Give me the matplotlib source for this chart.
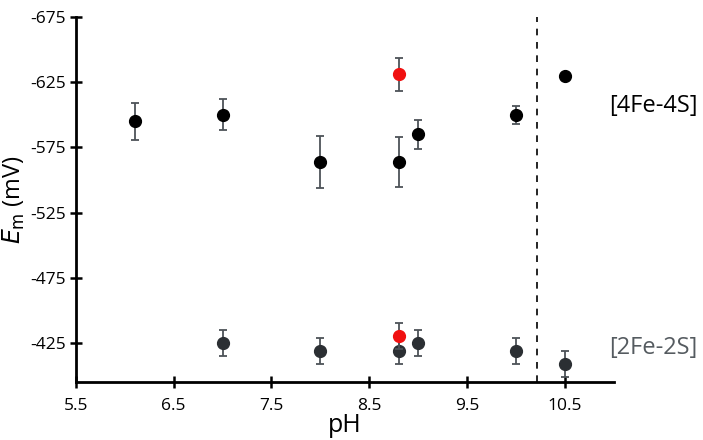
import matplotlib
matplotlib.use("Agg")
import matplotlib.pyplot as plt

plt.rcParams['font.family'] = ['Open Sans', 'DejaVu Sans']

# [4Fe-4S] cluster data
ph_4fe = [6.1, 7.0, 8.0, 8.8, 9.0, 10.0, 10.5]
em_4fe = [-595, -600, -564, -564, -585, -600, -630]
err_4fe = [14, 12, 20, 19, 11, 7, 0]

# red [4Fe-4S] point
ph_4fe_red = [8.8]
em_4fe_red = [-631]
err_4fe_red = [13]

# [2Fe-2S] cluster data
ph_2fe = [7.0, 8.0, 8.8, 9.0, 10.0, 10.5]
em_2fe = [-425, -419, -419, -425, -419, -409]
err_2fe = [10, 10, 10, 10, 10, 10]

# red [2Fe-2S] point
ph_2fe_red = [8.8]
em_2fe_red = [-430]
err_2fe_red = [10]

xticks = [5.5, 6.5, 7.5, 8.5, 9.5, 10.5]
yticks = [-675, -625, -575, -525, -475, -425]
vline_ph = 10.22

fig = plt.figure(figsize=(7.03, 4.40), dpi=100)
ax = fig.add_axes([0.108, 0.132, 0.765, 0.829])

ecol = '#4d5358'
kw = dict(fmt='o', ms=8.5, ecolor=ecol, elinewidth=1.3, capsize=3, capthick=1.3)
ax.errorbar(ph_2fe, em_2fe, yerr=err_2fe, color='#2b2f33', zorder=3, **kw)
ax.errorbar(ph_2fe_red, em_2fe_red, yerr=err_2fe_red, color='#f01010', zorder=4, **kw)
ax.errorbar(ph_4fe, em_4fe, yerr=err_4fe, color='black', zorder=3, **kw)
ax.errorbar(ph_4fe_red, em_4fe_red, yerr=err_4fe_red, color='#f01010', zorder=4, **kw)

ax.axvline(vline_ph, color='black', linestyle=(0, (4, 4)), linewidth=1.2)

ax.set_xlim(5.5, 11.0)
ax.set_ylim(-395, -675)
ax.set_xticks(xticks)
ax.set_yticks(yticks)
ax.set_xticklabels([str(t) for t in xticks])
ax.set_yticklabels([str(t) for t in yticks])

for s in ['top', 'right']:
    ax.spines[s].set_visible(False)
for s in ['left', 'bottom']:
    ax.spines[s].set_linewidth(2)
ax.tick_params(direction='inout', length=9, width=1.8, labelsize=12.5, pad=3)
ax.tick_params(axis='x', pad=7)

ax.set_xlabel('pH', fontsize=18, labelpad=-1)
ax.set_ylabel(r'$\mathit{E}_{\mathrm{m}}$ (mV)', fontsize=17, labelpad=2)

ax.text(10.95, -607, '[4Fe-4S]', fontsize=17, color='black', va='center', ha='left', clip_on=False)
ax.text(10.95, -421, '[2Fe-2S]', fontsize=17, color='#555b60', va='center', ha='left', clip_on=False)

fig.savefig('out.png', dpi=100)
